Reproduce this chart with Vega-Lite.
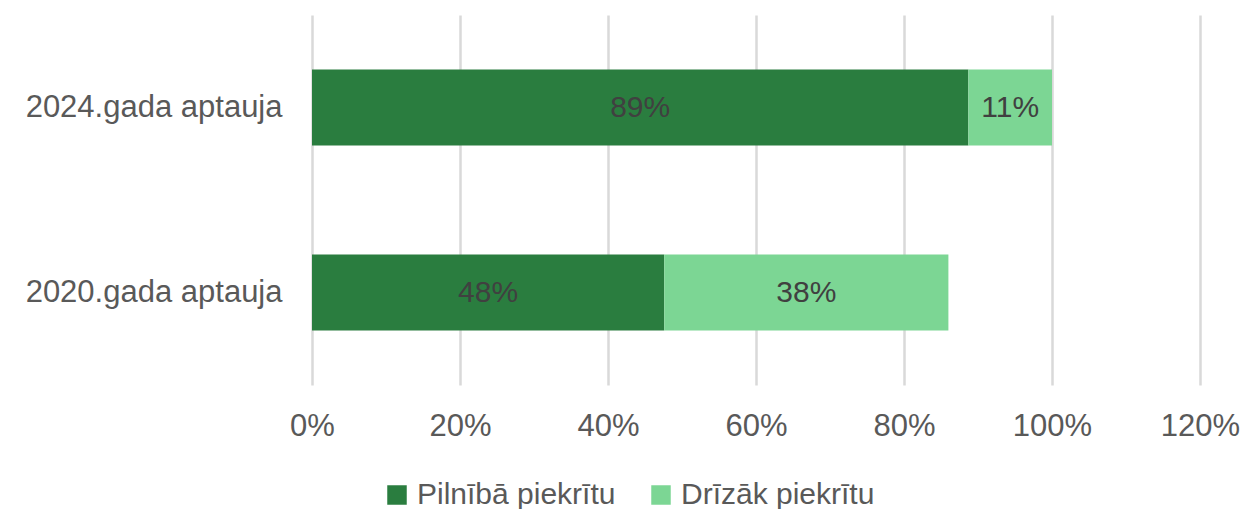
{
  "$schema": "https://vega.github.io/schema/vega-lite/v6.json",
  "autosize": {"type": "none"},
  "width": 888,
  "height": 370,
  "padding": {"left": 312, "top": 15, "right": 45, "bottom": 124},
  "background": "white",
  "config": {
    "view": {"stroke": null},
    "font": "Liberation Sans"
  },
  "data": {
    "values": [
      {"survey": "2024.gada aptauja", "answer": "Pilnībā piekrītu", "rank": 1, "value": 0.887},
      {"survey": "2024.gada aptauja", "answer": "Drīzāk piekrītu", "rank": 2, "value": 0.113},
      {"survey": "2020.gada aptauja", "answer": "Pilnībā piekrītu", "rank": 1, "value": 0.476},
      {"survey": "2020.gada aptauja", "answer": "Drīzāk piekrītu", "rank": 2, "value": 0.384}
    ]
  },
  "transform": [
    {"stack": "value", "groupby": ["survey"], "sort": [{"field": "rank", "order": "ascending"}], "as": ["v0", "v1"]},
    {"calculate": "(datum.v0 + datum.v1) / 2", "as": "mid"}
  ],
  "encoding": {
    "y": {
      "field": "survey",
      "type": "nominal",
      "sort": ["2024.gada aptauja", "2020.gada aptauja"],
      "scale": {"paddingInner": 0.589, "paddingOuter": 0.2945},
      "axis": {
        "title": null,
        "domain": false,
        "ticks": false,
        "labelPadding": 30,
        "labelLimit": 0,
        "labelFontSize": 31,
        "labelColor": "#595959",
        "labelFont": "Liberation Sans"
      }
    }
  },
  "layer": [
    {
      "mark": {"type": "bar"},
      "encoding": {
        "x": {
          "field": "v0",
          "type": "quantitative",
          "scale": {"domain": [0, 1.2], "nice": false},
          "axis": {
            "title": null,
            "values": [0, 0.2, 0.4, 0.6, 0.8, 1.0, 1.2],
            "format": ".0%",
            "domain": false,
            "ticks": false,
            "grid": true,
            "gridColor": "#d9d9d9",
            "gridWidth": 2.5,
            "labelFlush": false,
            "labelPadding": 26,
            "labelFontSize": 31,
            "labelColor": "#595959",
            "labelFont": "Liberation Sans"
          }
        },
        "x2": {"field": "v1"},
        "color": {
          "field": "answer",
          "type": "nominal",
          "scale": {
            "domain": ["Pilnībā piekrītu", "Drīzāk piekrītu"],
            "range": ["#2a7d3f", "#7cd694"]
          },
          "legend": {
            "title": null,
            "orient": "none",
            "direction": "horizontal",
            "legendX": 70,
            "legendY": 465,
            "symbolType": "square",
            "symbolSize": 380,
            "symbolStrokeWidth": 0,
            "labelFontSize": 30,
            "labelColor": "#595959",
            "labelFont": "Liberation Sans",
            "labelOffset": 5,
            "labelLimit": 0,
            "columnPadding": 30
          }
        }
      }
    },
    {
      "mark": {"type": "text", "fontSize": 30, "color": "#404040", "font": "Liberation Sans", "baseline": "middle"},
      "encoding": {
        "x": {"field": "mid", "type": "quantitative"},
        "text": {"field": "value", "type": "quantitative", "format": ".0%"}
      }
    }
  ]
}
